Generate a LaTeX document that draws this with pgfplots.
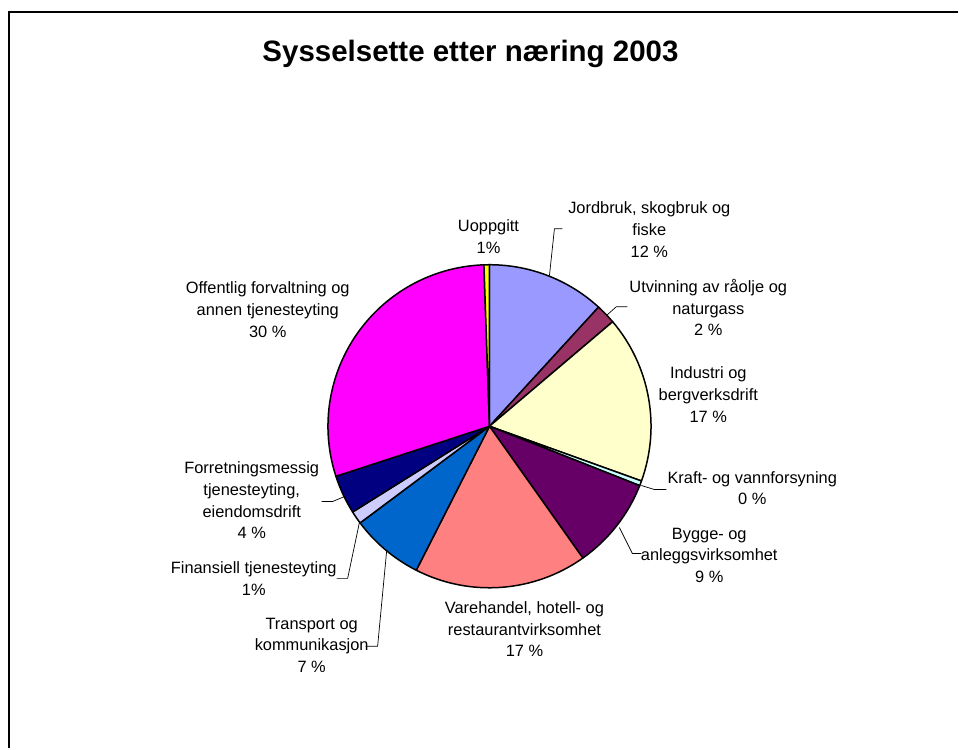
\documentclass[border=0pt]{standalone}
\usepackage{pgfplots}
\pgfplotsset{compat=1.18}
\usepackage{pgfplotstable}
\usepackage{fontspec}
\setmainfont{Liberation Sans}

\definecolor{cJord}{HTML}{9999FF}
\definecolor{cUtv}{HTML}{993366}
\definecolor{cInd}{HTML}{FFFFCC}
\definecolor{cKraft}{HTML}{CCFFFF}
\definecolor{cBygg}{HTML}{660066}
\definecolor{cVare}{HTML}{FF8080}
\definecolor{cTrans}{HTML}{0066CC}
\definecolor{cFin}{HTML}{CCCCFF}
\definecolor{cForr}{HTML}{000080}
\definecolor{cOff}{HTML}{FF00FF}
\definecolor{cUopp}{HTML}{FFFF00}

% share of employed persons (percent), clockwise from 12 o'clock
\pgfplotstableread{
sector value color
Jordbruk 11.8 cJord
Utvinning 2.0 cUtv
Industri 16.7 cInd
Kraft 0.49 cKraft
Bygge 9.2 cBygg
Varehandel 17.3 cVare
Transport 7.3 cTrans
Finansiell 1.3 cFin
Forretning 3.9 cForr
Offentlig 29.46 cOff
Uoppgitt 0.55 cUopp
}\piedata
\pgfplotstablecreatecol[create col/expr accum={\pgfmathaccuma + \thisrow{value}}{0}]{cum}{\piedata}

\begin{document}
\begin{tikzpicture}
\begin{axis}[
  hide axis, scale only axis,
  x=1pt, y=1pt,
  xmin=0, xmax=959, ymin=0, ymax=749,
  clip=false,
]
\path (axis cs:0,0) rectangle (axis cs:959,749);
% chart frame
\draw[line width=2pt] (axis cs:9,0) -- (axis cs:9,737) -- (axis cs:959,737);

% pie slices
\pgfplotstablegetrowsof{\piedata}
\pgfmathtruncatemacro{\lastrow}{\pgfplotsretval-1}
\pgfplotsforeachungrouped \i in {0,...,\lastrow}{
  \pgfplotstablegetelem{\i}{value}\of\piedata \let\val\pgfplotsretval
  \pgfplotstablegetelem{\i}{cum}\of\piedata \let\cu\pgfplotsretval
  \pgfplotstablegetelem{\i}{color}\of\piedata \let\col\pgfplotsretval
  \pgfmathsetmacro\aone{90-3.6*(\cu-\val)}
  \pgfmathsetmacro\atwo{90-3.6*\cu}
  \edef\temp{\noexpand\filldraw[fill=\col, draw=black, line width=1.5pt, line join=round]
    (axis cs:490,322.3) -- ++(\aone:161.7pt) arc[start angle=\aone, end angle=\atwo, radius=161.7pt] -- cycle;}
  \temp
}

% leader lines
\draw[line width=0.7pt] (axis cs:550,473) -- (axis cs:555,520) -- (axis cs:563,520);
\draw[line width=0.7pt] (axis cs:608,434) -- (axis cs:617,442) -- (axis cs:628,442);
\draw[line width=0.7pt] (axis cs:642,263) -- (axis cs:655,259) -- (axis cs:667,259);
\draw[line width=0.7pt] (axis cs:620,221) -- (axis cs:633,195) -- (axis cs:642,195);
\draw[line width=0.7pt] (axis cs:387,197) -- (axis cs:378,102) -- (axis cs:366,102);
\draw[line width=0.7pt] (axis cs:360,227) -- (axis cs:348,170) -- (axis cs:337,170);
\draw[line width=0.7pt] (axis cs:345,252) -- (axis cs:333,247) -- (axis cs:322,247);

% title
\node[font=\fontsize{29.5}{35}\selectfont\bfseries] at (axis cs:471,695) {Sysselsette etter næring 2003};

% labels
\tikzset{lab/.style={align=center, inner sep=0pt, font=\fontsize{16.4}{21.7}\selectfont}}
\node[lab] at (axis cs:489,512) {Uoppgitt\\1\%};
\node[lab] at (axis cs:650,519) {Jordbruk, skogbruk og\\fiske\\12 \%};
\node[lab] at (axis cs:709,441) {Utvinning av råolje og\\naturgass\\2 \%};
\node[lab] at (axis cs:709,354) {Industri og\\bergverksdrift\\17 \%};
\node[lab] at (axis cs:753,260.5) {Kraft- og vannforsyning\\0 \%};
\node[lab] at (axis cs:710,193) {Bygge- og\\anleggsvirksomhet\\9 \%};
\node[lab] at (axis cs:525,119) {Varehandel, hotell- og\\restaurantvirksomhet\\17 \%};
\node[lab] at (axis cs:312,103) {Transport og\\kommunikasjon\\7 \%};
\node[lab] at (axis cs:254,170) {Finansiell tjenesteyting\\1\%};
\node[lab] at (axis cs:252,248) {Forretningsmessig\\tjenesteyting,\\eiendomsdrift\\4 \%};
\node[lab] at (axis cs:268,439) {Offentlig forvaltning og\\annen tjenesteyting\\30 \%};
\end{axis}
\end{tikzpicture}
\end{document}
